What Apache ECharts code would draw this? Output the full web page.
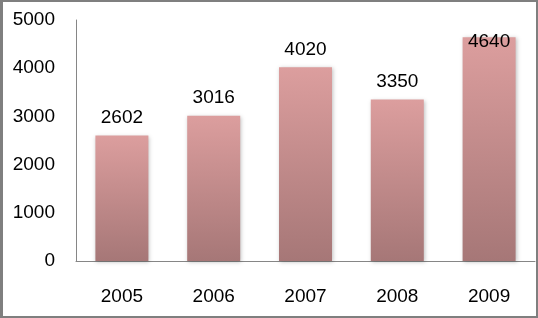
<!DOCTYPE html>
<html>
<head>
<meta charset="utf-8">
<script src="https://cdn.jsdelivr.net/npm/echarts@6/dist/echarts.min.js"></script>
<style>
html,body{margin:0;padding:0;background:#fff;}
#frame{width:538px;height:318px;box-sizing:border-box;border:2px solid #7f7f7f;border-left-width:3px;position:relative;overflow:hidden;}
#chart{position:absolute;left:-3px;top:-2px;width:538px;height:318px;}
</style>
</head>
<body>
<div id="frame"><div id="chart"></div></div>
<script>
const categories = ['2005', '2006', '2007', '2008', '2009'];
const values = [2602, 3016, 4020, 3350, 4640];
const yTicks = [0, 1000, 2000, 3000, 4000, 5000];

const font = 'Liberation Sans';
const chart = echarts.init(document.getElementById('chart'));
const data = values.map((v, i) => {
  const item = { value: v };
  if (v > 4500) {
    item.label = { position: 'insideTop', distance: -5 };
  }
  return item;
});
chart.setOption({
  animation: false,
  grid: { left: 76, right: 3, top: 20, bottom: 57 },
  xAxis: {
    type: 'category',
    data: categories,
    axisLine: { show: true, lineStyle: { color: '#868686', width: 1 } },
    axisTick: { show: false },
    axisLabel: { margin: 26, fontSize: 19, fontFamily: font, color: '#000' }
  },
  yAxis: {
    type: 'value',
    min: yTicks[0],
    max: yTicks[yTicks.length - 1],
    interval: 1000,
    axisLine: { show: true, lineStyle: { color: '#868686', width: 1 } },
    axisTick: { show: false },
    splitLine: { show: false },
    axisLabel: { margin: 21, fontSize: 19, fontFamily: font, color: '#000', formatter: v => String(v) }
  },
  series: [{
    type: 'bar',
    data: data,
    barWidth: 53,
    itemStyle: {
      color: new echarts.graphic.LinearGradient(0, 0, 0, 1, [
        { offset: 0, color: '#dc9e9e' },
        { offset: 1, color: '#a67777' }
      ]),
      shadowColor: 'rgba(0,0,0,0.25)',
      shadowBlur: 4,
      shadowOffsetX: 1,
      shadowOffsetY: 1
    },
    label: {
      show: true,
      position: 'top',
      distance: 8,
      fontSize: 19,
      fontFamily: font,
      color: '#000'
    }
  }]
});
</script>
</body>
</html>
